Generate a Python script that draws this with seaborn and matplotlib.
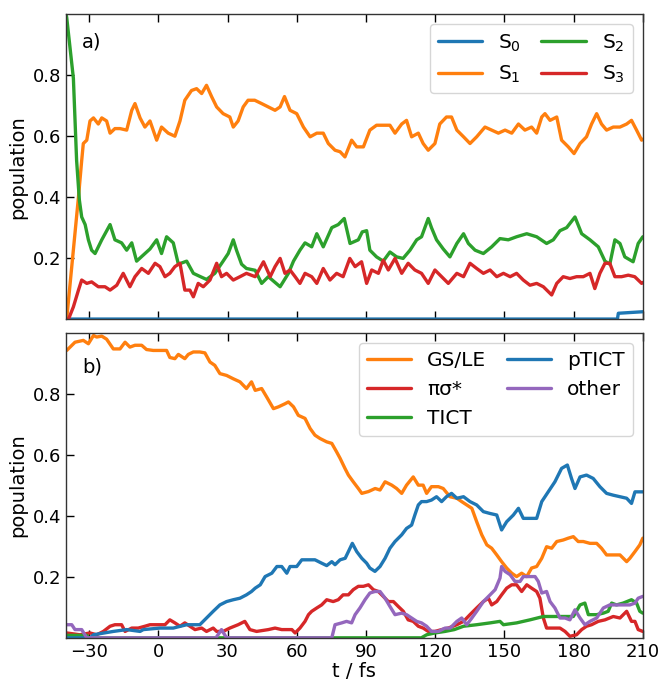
import numpy as np
import seaborn as sns
import matplotlib
matplotlib.use("Agg")
import matplotlib.pyplot as plt

# panel a) adiabatic state populations
t_s0 = [-40, 199.0, 199.4, 210]
s0 = [0.0, 0.0, 0.019, 0.024]

t_s1 = [-39.7, -34.6, -33.2, -32.5, -31.0, -29.6, -28.1, -26.0, -24.5, -22.4, -20.9, -18.8, -16.6, -13.7,
        -11.5, -10.1, -7.9, -5.8, -3.6, -0.7, 1.4, 4.3, 7.2, 9.4, 11.5, 14.4, 16.6, 18.8, 20.9, 23.1, 25.3,
        28.1, 31.0, 32.5, 34.6, 36.8, 38.9, 41.8, 44.8, 47.7, 50.6, 52.8, 54.7, 57.1, 60.0, 62.9, 65.8,
        68.7, 71.5, 73.7, 76.6, 78.8, 80.9, 83.8, 86.0, 88.9, 91.7, 94.6, 97.5, 100.4, 102.6, 105.5, 107.6,
        109.8, 112.7, 114.8, 117.0, 119.9, 122.0, 124.9, 127.1, 129.4, 132.3, 135.1, 138.0, 141.6, 144.5,
        147.4, 150.3, 153.2, 156.1, 158.9, 161.8, 164.0, 166.2, 167.6, 169.8, 172.7, 174.8, 177.7, 180.2,
        182.8, 185.6, 187.8, 190.0, 192.1, 194.3, 197.2, 200.1, 203.0, 205.1, 207.3, 209.5, 210]
s1 = [0.0, 0.40, 0.52, 0.576, 0.587, 0.65, 0.66, 0.64, 0.66, 0.65, 0.61, 0.625, 0.625, 0.62,
      0.685, 0.707, 0.66, 0.63, 0.65, 0.587, 0.63, 0.61, 0.60, 0.65, 0.718, 0.75, 0.756, 0.74, 0.767, 0.73, 0.696,
      0.674, 0.663, 0.63, 0.65, 0.696, 0.718, 0.718, 0.707, 0.696, 0.685, 0.696, 0.73, 0.685, 0.674, 0.63, 0.598,
      0.61, 0.61, 0.576, 0.554, 0.549, 0.532, 0.587, 0.565, 0.565, 0.62, 0.636, 0.636, 0.636, 0.61, 0.64, 0.652,
      0.598, 0.61, 0.576, 0.554, 0.576, 0.64, 0.663, 0.663, 0.62, 0.598, 0.576, 0.598, 0.63, 0.62,
      0.61, 0.62, 0.61, 0.64, 0.62, 0.63, 0.61, 0.663, 0.674, 0.652, 0.663, 0.587, 0.565, 0.543,
      0.576, 0.598, 0.64, 0.674, 0.64, 0.62, 0.63, 0.63, 0.64, 0.652, 0.62, 0.587, 0.59]

t_s2 = [-40.0, -39.7, -36.8, -35.4, -34.2, -33.2, -31.7, -30.3, -28.9, -27.4, -24.5, -20.9, -18.8, -15.9,
        -13.7, -11.5, -9.4, -6.5, -3.6, -0.7, 1.4, 3.6, 6.5, 8.7, 12.3, 15.2, 18.0, 20.9, 24.5, 28.1, 30.3,
        32.5, 33.9, 36.1, 38.2, 42.0, 44.8, 47.7, 52.8, 56.4, 58.6, 61.4, 63.6, 66.5, 68.7, 71.5, 75.2,
        78.0, 80.6, 83.1, 86.7, 88.4, 90.3, 91.7, 94.6, 97.5, 100.4, 103.3, 106.1, 109.1, 112.0, 114.1,
        117.0, 118.4, 120.6, 123.5, 126.4, 129.4, 132.3, 134.4, 137.3, 140.9, 144.5, 148.1, 151.7, 155.3,
        159.7, 164.0, 168.3, 171.2, 174.1, 177.0, 180.6, 183.5, 187.1, 190.7, 193.6, 195.7, 197.9, 200.1,
        202.2, 205.8, 208.0, 210]
s2 = [1.0, 0.99, 0.79, 0.52, 0.39, 0.335, 0.31, 0.26, 0.226, 0.215, 0.26, 0.31, 0.26, 0.25,
      0.226, 0.25, 0.19, 0.21, 0.23, 0.26, 0.215, 0.27, 0.25, 0.18, 0.19, 0.15, 0.14, 0.13, 0.15, 0.19, 0.215,
      0.26, 0.226, 0.18, 0.166, 0.16, 0.117, 0.139, 0.106, 0.15, 0.19, 0.226, 0.25, 0.237, 0.28, 0.237, 0.30,
      0.31, 0.33, 0.248, 0.26, 0.286, 0.29, 0.226, 0.204, 0.19, 0.22, 0.204, 0.199, 0.226, 0.26, 0.27,
      0.33, 0.30, 0.26, 0.23, 0.204, 0.248, 0.28, 0.248, 0.226, 0.215, 0.237, 0.264, 0.26, 0.27,
      0.28, 0.27, 0.248, 0.26, 0.29, 0.30, 0.335, 0.28, 0.26, 0.237, 0.19, 0.18, 0.26, 0.248,
      0.204, 0.188, 0.248, 0.27]

t_s3 = [-40.0, -38.9, -36.8, -34.6, -33.2, -31.0, -28.9, -26.0, -23.1, -20.9, -18.0, -15.2, -12.3, -10.1,
        -7.2, -4.3, -1.4, 0.7, 2.9, 5.0, 7.2, 9.4, 11.5, 13.7, 15.2, 17.3, 19.5, 22.4, 25.3, 27.4, 29.6,
        32.5, 35.4, 38.2, 42.0, 45.6, 48.5, 50.6, 52.8, 54.9, 57.1, 59.3, 61.4, 63.6, 66.5, 68.7, 71.5,
        74.4, 77.3, 80.1, 83.0, 85.3, 88.1, 90.3, 92.5, 95.4, 97.5, 99.7, 102.6, 105.5, 108.3, 111.2,
        114.1, 117.0, 119.9, 122.8, 125.7, 129.4, 132.3, 135.1, 138.0, 140.9, 143.8, 146.7, 149.6, 152.5,
        155.3, 158.2, 161.1, 164.0, 166.9, 170.5, 172.7, 175.5, 178.4, 181.3, 184.2, 187.1, 189.2, 191.4,
        193.6, 195.7, 197.9, 200.8, 203.7, 206.5, 209.5, 210]
s3 = [0.0, 0.0, 0.04, 0.095, 0.128, 0.117, 0.122, 0.106, 0.106, 0.095, 0.111, 0.15, 0.106, 0.139,
      0.166, 0.15, 0.183, 0.172, 0.139, 0.15, 0.172, 0.183, 0.095, 0.095, 0.073, 0.117, 0.106, 0.128, 0.183, 0.139, 0.15,
      0.128, 0.139, 0.15, 0.139, 0.188, 0.139, 0.172, 0.199, 0.15, 0.161, 0.139, 0.117, 0.15, 0.139, 0.117, 0.166,
      0.128, 0.15, 0.139, 0.199, 0.172, 0.188, 0.117, 0.161, 0.15, 0.193, 0.161, 0.199, 0.15, 0.183, 0.161,
      0.15, 0.117, 0.161, 0.139, 0.117, 0.15, 0.139, 0.183, 0.166, 0.15, 0.161, 0.139, 0.15, 0.139,
      0.15, 0.128, 0.111, 0.117, 0.106, 0.079, 0.117, 0.139, 0.133, 0.139, 0.139, 0.15, 0.10, 0.15,
      0.183, 0.183, 0.139, 0.139, 0.144, 0.139, 0.117, 0.12]

# panel b) diabatic character populations
t_gs = [-39.7, -36.1, -32.5, -30.3, -28.1, -26.7, -24.5, -22.4, -19.5, -16.6, -14.4, -12.3, -10.1, -7.2,
        -5.1, -2.2, 0.7, 3.6, 5.0, 7.2, 8.7, 11.5, 13.0, 15.2, 18.0, 20.2, 22.4, 24.5, 26.7, 29.6, 32.5,
        35.4, 38.2, 40.4, 42.0, 44.8, 47.0, 49.9, 52.1, 54.9, 56.4, 58.6, 60.7, 63.6, 65.8, 67.9, 70.1,
        73.0, 75.2, 77.3, 78.8, 80.9, 82.4, 84.5, 86.7, 88.2, 91.1, 94.0, 96.1, 98.3, 101.2, 103.3, 105.5,
        107.6, 110.5, 112.7, 114.8, 116.3, 118.4, 121.4, 123.5, 126.4, 129.4, 131.5, 133.7, 135.9, 138.0,
        140.2, 142.4, 144.5, 146.7, 148.8, 151.0, 153.2, 155.3, 157.5, 159.7, 161.8, 164.0, 166.2, 168.3,
        170.5, 172.7, 175.5, 177.7, 179.9, 182.0, 184.2, 187.1, 190.0, 192.1, 194.3, 197.2, 200.1, 203.0,
        204.4, 206.6, 208.7, 210]
gs = [0.943, 0.97, 0.976, 0.965, 0.992, 0.987, 0.99, 0.98, 0.948, 0.948, 0.97, 0.954, 0.96, 0.96,
      0.946, 0.943, 0.943, 0.943, 0.92, 0.916, 0.93, 0.916, 0.93, 0.938, 0.938, 0.935, 0.905, 0.894, 0.867, 0.861, 0.85,
      0.84, 0.818, 0.84, 0.812, 0.818, 0.79, 0.752, 0.758, 0.768, 0.774, 0.758, 0.73, 0.72, 0.687, 0.665, 0.654,
      0.643, 0.638, 0.61, 0.589, 0.556, 0.534, 0.512, 0.49, 0.474, 0.48, 0.49, 0.485, 0.512, 0.501, 0.49, 0.474,
      0.501, 0.528, 0.501, 0.501, 0.474, 0.496, 0.496, 0.49, 0.463, 0.458, 0.447, 0.436, 0.425, 0.381,
      0.338, 0.305, 0.294, 0.272, 0.25, 0.229, 0.212, 0.201, 0.212, 0.201, 0.229, 0.234, 0.261, 0.299,
      0.294, 0.316, 0.321, 0.327, 0.332, 0.316, 0.316, 0.31, 0.31, 0.294, 0.272, 0.272, 0.272, 0.25,
      0.261, 0.283, 0.305, 0.327]

t_ps = [-40.0, -29.6, -28.1, -19.5, -13.7, -7.9, -6.5, 0.7, 6.5, 12.3, 18.0, 20.9, 23.8, 26.7, 29.6, 32.5,
        35.4, 38.2, 40.4, 42.0, 44.2, 46.3, 49.2, 51.4, 53.5, 55.7, 57.1, 60.0, 62.2, 65.1, 67.9, 70.8,
        73.0, 75.2, 76.6, 78.8, 81.0, 82.4, 84.1, 86.0, 88.2, 90.3, 91.7, 93.9, 96.1, 98.3, 100.4, 102.6,
        105.5, 107.6, 109.8, 111.2, 112.7, 114.1, 116.3, 118.4, 120.6, 122.8, 124.9, 127.1, 129.4, 132.3,
        135.1, 138.0, 140.9, 143.8, 146.7, 148.8, 151.0, 153.9, 156.1, 158.2, 161.1, 164.0, 166.2, 169.0,
        171.9, 174.8, 177.3, 179.1, 180.6, 182.8, 185.6, 188.5, 191.4, 194.3, 197.2, 200.1, 203.0, 205.1,
        206.6, 210]
ps = [0.0, 0.0, 0.01, 0.021, 0.027, 0.021, 0.027, 0.032, 0.032, 0.043, 0.043, 0.065, 0.087, 0.108, 0.119, 0.125,
      0.13, 0.141, 0.152, 0.163, 0.174, 0.201, 0.212, 0.234, 0.234, 0.212, 0.234, 0.234, 0.256, 0.256, 0.256, 0.245,
      0.237, 0.25, 0.24, 0.256, 0.261, 0.283, 0.31, 0.283, 0.261, 0.245, 0.229, 0.218, 0.234, 0.261, 0.294, 0.316,
      0.338, 0.359, 0.37, 0.403, 0.436, 0.447, 0.447, 0.452, 0.463, 0.447, 0.463, 0.474, 0.458, 0.463,
      0.447, 0.436, 0.414, 0.408, 0.403, 0.354, 0.381, 0.403, 0.425, 0.392, 0.392, 0.392, 0.447, 0.479,
      0.512, 0.556, 0.567, 0.523, 0.49, 0.528, 0.534, 0.523, 0.496, 0.474, 0.468, 0.463, 0.458, 0.441,
      0.479, 0.479]

t_ps_star = [-39.7, -34.0, -29.6, -26.7, -23.8, -20.9, -18.8, -15.9, -14.4, -11.5, -8.7, -5.8, -3.6, -0.7,
             2.9, 5.0, 7.2, 9.4, 11.5, 13.7, 15.9, 18.8, 20.9, 23.8, 25.3, 28.1, 31.0, 34.6, 37.5, 39.7,
             42.6, 47.7, 50.6, 53.5, 57.9, 59.3, 61.4, 63.6, 65.1, 66.5, 68.7, 70.8, 73.0, 75.8, 78.0, 80.1,
             82.4, 84.5, 86.7, 88.9, 91.1, 93.2, 95.4, 97.5, 99.7, 101.9, 104.0, 106.2, 108.3, 110.5, 112.7,
             114.8, 117.0, 119.9, 122.8, 125.7, 129.4, 132.3, 135.1, 138.0, 140.9, 143.1, 144.5, 146.7, 148.8,
             151.0, 153.2, 155.3, 157.5, 159.7, 161.8, 164.0, 165.4, 166.9, 168.3, 171.2, 174.1, 176.3, 178.4,
             181.3, 183.5, 185.6, 187.8, 190.7, 193.6, 197.2, 200.1, 203.0, 205.1, 206.6, 208.0, 210]
ps_star = [0.016, 0.01, 0.016, 0.01, 0.021, 0.038, 0.043, 0.043, 0.021, 0.032, 0.032, 0.038, 0.043, 0.043,
           0.043, 0.059, 0.049, 0.038, 0.049, 0.038, 0.027, 0.032, 0.021, 0.032, 0.021, 0.021, 0.032, 0.043, 0.054, 0.027,
           0.021, 0.027, 0.032, 0.027, 0.027, 0.016, 0.032, 0.054, 0.076, 0.087, 0.098, 0.108, 0.125, 0.119, 0.125, 0.141,
           0.141, 0.158, 0.169, 0.169, 0.174, 0.158, 0.152, 0.136, 0.119, 0.119, 0.103, 0.087, 0.059, 0.054, 0.038,
           0.032, 0.021, 0.021, 0.027, 0.032, 0.043, 0.054, 0.076, 0.098, 0.119, 0.13, 0.108, 0.119, 0.141,
           0.163, 0.174, 0.174, 0.152, 0.174, 0.163, 0.152, 0.13, 0.065, 0.032, 0.032, 0.032, 0.021, 0.005,
           0.01, 0.027, 0.038, 0.043, 0.054, 0.059, 0.07, 0.065, 0.087, 0.054, 0.054, 0.027, 0.021]

t_tict = [-40.0, -31.0, -30.0, 114.0, 116.3, 119.9, 124.3, 128.3, 132.3, 138.0, 143.8, 148.1, 149.6, 155.3,
          161.1, 166.9, 172.7, 179.9, 182.8, 184.9, 186.4, 190.0, 192.9, 195.0, 196.5, 198.6, 201.5,
          205.1, 207.3, 208.7, 210]
tict = [0.008, 0.008, 0.0, 0.0, 0.01, 0.016, 0.021, 0.027, 0.038, 0.043, 0.049, 0.054, 0.043, 0.049,
        0.059, 0.07, 0.07, 0.07, 0.108, 0.114, 0.076, 0.076, 0.081, 0.087, 0.114, 0.108, 0.114,
        0.125, 0.114, 0.087, 0.081]

t_other = [-40.0, -37.5, -36.1, -33.2, -31.0, 25.0, 27.4, 29.6, 75.2, 76.6, 79.5, 81.6, 83.8, 85.3, 87.4,
           89.6, 91.7, 93.9, 96.1, 98.3, 100.4, 102.6, 105.5, 107.6, 109.8, 112.0, 114.1, 116.3, 118.4,
           121.4, 124.3, 126.5, 129.4, 131.5, 133.7, 135.9, 138.0, 140.9, 143.8, 146.0, 148.1, 148.8, 150.3,
           152.5, 154.6, 156.8, 158.2, 161.1, 163.3, 164.7, 166.2, 168.3, 169.8, 171.9, 174.1, 176.3, 178.4,
           180.6, 182.8, 184.9, 187.1, 190.0, 192.9, 195.7, 198.6, 201.5, 204.4, 206.6, 208.0, 210]
other = [0.043, 0.043, 0.027, 0.027, 0.0, 0.0, 0.027, 0.0, 0.0, 0.043, 0.049, 0.054, 0.049, 0.076, 0.098,
         0.125, 0.147, 0.152, 0.152, 0.13, 0.103, 0.076, 0.081, 0.076, 0.065, 0.054, 0.049, 0.038, 0.021,
         0.021, 0.032, 0.032, 0.054, 0.065, 0.043, 0.065, 0.087, 0.119, 0.141, 0.158, 0.196, 0.234, 0.218,
         0.207, 0.185, 0.185, 0.201, 0.201, 0.201, 0.185, 0.147, 0.152, 0.119, 0.098, 0.065, 0.065, 0.059,
         0.092, 0.065, 0.043, 0.054, 0.065, 0.098, 0.108, 0.108, 0.108, 0.108, 0.114, 0.13, 0.136]

blue, orange, green, red, purple = "#1f77b4", "#ff7f0e", "#2ca02c", "#d62728", "#9467bd"

sns.set_style("white", {"xtick.bottom": True, "xtick.top": True, "ytick.left": True,
                        "xtick.direction": "in", "ytick.direction": "in",
                        "text.color": "black", "axes.labelcolor": "black",
                        "xtick.color": "black", "ytick.color": "black"})
plt.rcParams["font.family"] = ["DejaVu Sans"]

fig, (ax1, ax2) = plt.subplots(2, 1, figsize=(6.62, 6.81), dpi=100, sharex=True)
fig.subplots_adjust(left=0.0997, right=0.971, top=0.979, bottom=0.0634, hspace=0.046)

lw = 2.4
sns.lineplot(x=t_s0, y=s0, ax=ax1, color=blue, lw=lw, label="S$_0$")
sns.lineplot(x=t_s1, y=s1, ax=ax1, color=orange, lw=lw, label="S$_1$")
sns.lineplot(x=t_s2, y=s2, ax=ax1, color=green, lw=lw, label="S$_2$")
sns.lineplot(x=t_s3, y=s3, ax=ax1, color=red, lw=lw, label="S$_3$")

sns.lineplot(x=t_gs, y=gs, ax=ax2, color=orange, lw=lw, label="GS/LE")
sns.lineplot(x=t_ps_star, y=ps_star, ax=ax2, color=red, lw=lw, label="πσ*")
sns.lineplot(x=t_tict, y=tict, ax=ax2, color=green, lw=lw, label="TICT")
sns.lineplot(x=t_ps, y=ps, ax=ax2, color=blue, lw=lw, label="pTICT")
sns.lineplot(x=t_other, y=other, ax=ax2, color=purple, lw=lw, label="other")

for ax, tag, ty in [(ax1, "a)", 0.908), (ax2, "b)", 0.89)]:
    ax.set_xlim(-40, 210)
    ax.set_ylim(0, 1.0)
    ax.set_yticks([0.2, 0.4, 0.6, 0.8])
    ax.set_xticks(np.arange(-30, 211, 30))
    ax.tick_params(direction="in", bottom=True, top=True, left=True, right=False,
                   length=6, width=1, labelsize=13, colors="black")
    ax.set_ylabel("population", fontsize=14)
    for s in ax.spines.values():
        s.set_color("#333333")
        s.set_linewidth(1.0)
    ax.text(0.028, ty, tag, transform=ax.transAxes, fontsize=14, va="center")
    ax.legend(loc="upper right", ncol=2, fontsize=14.5, columnspacing=1.0,
              handlelength=2.2, borderaxespad=0.5)

ax1.tick_params(labelbottom=False)
ax2.set_xlabel("t / fs", fontsize=14, labelpad=1)

fig.savefig("out.png", dpi=100)
